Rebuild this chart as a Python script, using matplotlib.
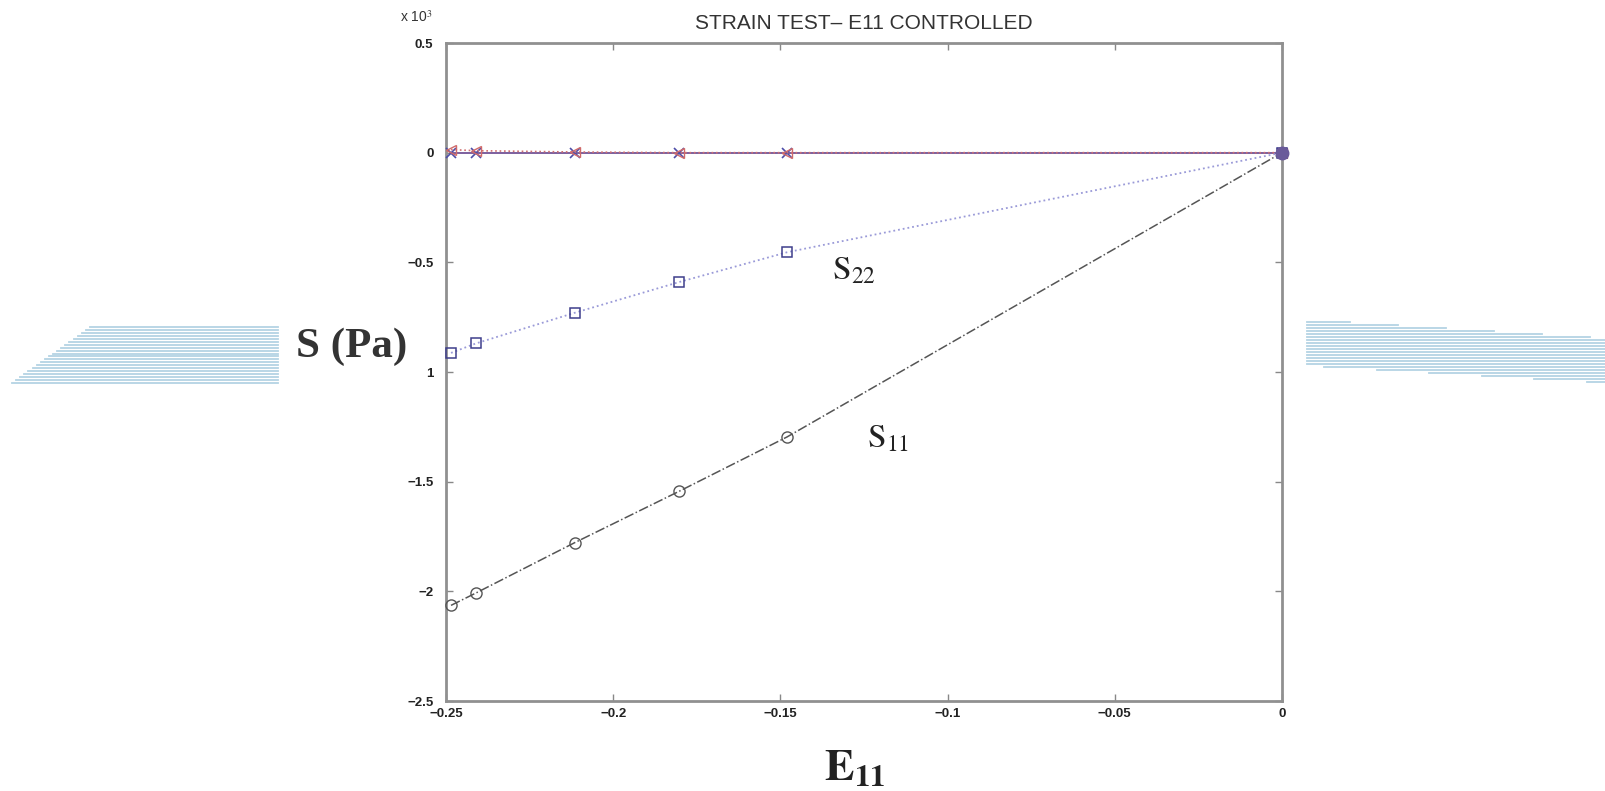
"""Strain test plot: stresses vs E11 (MATLAB-style figure)."""
import numpy as np
import matplotlib
matplotlib.use("Agg")
import matplotlib.pyplot as plt

plt.rcParams["mathtext.fontset"] = "stix"
plt.rcParams["font.family"] = ["Liberation Sans", "DejaVu Sans"]

# strain steps (E11) and stresses (x 10^3 Pa)
e11 = [-0.2485, -0.2411, -0.2115, -0.1803, -0.148, 0.0]
s11 = [-2.064, -2.008, -1.778, -1.544, -1.296, 0.0]
s22 = [-0.913, -0.870, -0.730, -0.590, -0.454, 0.0]
s12 = [0.014, 0.009, 0.003, 0.0, 0.0, 0.0]
s33 = [0.0, 0.0, 0.0, 0.0, 0.0, 0.0]

x_ticks = [-0.25, -0.2, -0.15, -0.1, -0.05, 0]
x_ticklabels = ["\u22120.25", "\u22120.2", "\u22120.15", "\u22120.1", "\u22120.05", "0"]
y_ticks = [0.5, 0, -0.5, -1, -1.5, -2, -2.5]
# the minus of -1 is hidden behind the "S (Pa)" label in the original
y_ticklabels = ["0.5", "0", "\u22120.5", "1", "\u22121.5", "\u22122", "\u22122.5"]

W, H = 1606, 791
fig = plt.figure(figsize=(W / 100, H / 100), dpi=100)

# decorative light blue stripes behind everything (pixel coords)
bg = fig.add_axes([0, 0, 1, 1], zorder=0)
bg.set_xlim(0, W)
bg.set_ylim(H, 0)
bg.axis("off")
stripe = "#b4d3e4"
for i, y in enumerate(np.linspace(327, 383, 20)):
    left = 90 - (90 - 12) * i / 19
    bg.plot([left, 278], [y, y], color=stripe, lw=1.3)
for i, y in enumerate(np.linspace(322, 382, 21)):
    start = 1307 if y < 366 else 1307 + (y - 366) / 16 * 280
    end = 1606 if y > 338 else 1350 + (y - 322) / 16 * 256
    bg.plot([start, end], [y, y], color=stripe, lw=1.3)

ax = fig.add_axes([446 / W, 1 - 701 / H, (1282 - 446) / W, (701 - 43) / H], zorder=1)
ax.patch.set_alpha(0)

ax.plot(e11, s33, "-", color="#7c5f9e", lw=1.4, zorder=2)
ax.plot(e11, s33, "x", color="#4d4da8", ms=7, mew=1.2, zorder=3, clip_on=False)
ax.plot(e11, s12, ":", color="#d07070", lw=1.2, zorder=3)
ax.plot(e11, s12, "<", color="#d06a6a", mfc="none", ms=7, mew=1.0, zorder=3, clip_on=False)
ax.plot(e11, s22, ":", color="#9a9ad8", lw=1.3, zorder=2)
ax.plot(e11, s22, "s", color="#3f3f8c", mfc="none", ms=7, mew=1.1, zorder=3, clip_on=False)
ax.plot(e11, s11, "-.", color="#555555", lw=1.1, zorder=2)
ax.plot(e11, s11, "o", color="#555555", mfc="none", ms=8, mew=1.0, zorder=3, clip_on=False)
ax.plot(e11[-1], s11[-1], "o", color="#6a5a9a", mfc="#6a5a9a", ms=9, zorder=4, clip_on=False)

ax.set_xlim(-0.25, 0)
ax.set_ylim(-2.5, 0.5)
ax.set_xticks(x_ticks)
ax.set_xticklabels(x_ticklabels)
ax.set_yticks(y_ticks)
ax.set_yticklabels(y_ticklabels)
ax.tick_params(direction="in", top=True, right=True, length=5, width=1,
               color="#888888", labelsize=9.5, labelcolor="#222222")
ax.tick_params(axis="y", pad=9)
ax.tick_params(axis="x", pad=5)
for lab in ax.get_xticklabels() + ax.get_yticklabels():
    lab.set_fontweight("bold")
for sp in ax.spines.values():
    sp.set_color("#909090")
    sp.set_linewidth(2)

ax.set_title("STRAIN TEST\u2013 E11 CONTROLLED", fontsize=15, color="#333333", pad=10)
fig.text(400 / W, 1 - 22 / H, r"x 10$^{3}$", fontsize=10, color="#333333")

fig.text(352 / W, 1 - 347 / H, "S (Pa)", fontsize=31, fontweight="bold",
         ha="center", va="center", family=["Liberation Serif", "DejaVu Serif"],
         color="#333333")
fig.text(855 / W, 1 - 780 / H, r"$\mathbf{E}_{\mathbf{11}}$", fontsize=32,
         ha="center", va="baseline", color="#222222")
fig.text(832 / W, 1 - 280 / H, r"$\mathrm{S}_{22}$", fontsize=24,
         ha="left", va="baseline", color="#222222")
fig.text(867 / W, 1 - 448 / H, r"$\mathrm{S}_{11}$", fontsize=24,
         ha="left", va="baseline", color="#222222")

fig.savefig("out.png", dpi=100)
